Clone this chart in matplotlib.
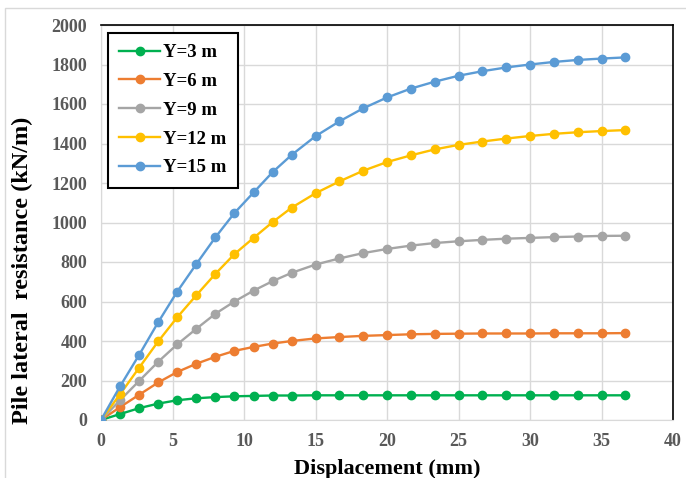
import matplotlib.pyplot as plt
import matplotlib.patches as patches
import numpy as np

plt.rcParams['font.family'] = ['Liberation Serif', 'DejaVu Serif']

# displacement (mm)
disp = [0, 1.33, 2.67, 4, 5.33, 6.67, 8, 9.33, 10.67, 12, 13.33, 15, 16.67,
        18.33, 20, 21.67, 23.33, 25, 26.67, 28.33, 30, 31.67, 33.33, 35, 36.67]

y3 = [0, 30, 60, 83, 100, 110, 116, 120, 122, 124, 124, 125, 125,
      125, 125, 125, 125, 125, 125, 125, 125, 125, 125, 125, 125]
y6 = [0, 65, 128, 190, 243, 285, 320, 350, 370, 387, 400, 413, 420,
      426, 430, 434, 436, 437, 438, 438, 438, 439, 439, 439, 440]
y9 = [0, 100, 198, 295, 383, 462, 538, 600, 655, 703, 745, 787, 818,
      845, 866, 883, 896, 905, 912, 918, 922, 926, 929, 932, 933]
y12 = [0, 130, 265, 398, 520, 632, 740, 840, 922, 1002, 1075, 1148, 1208,
       1262, 1306, 1340, 1370, 1393, 1410, 1425, 1438, 1449, 1457, 1463, 1468]
y15 = [0, 170, 330, 495, 650, 790, 925, 1048, 1152, 1255, 1342, 1437, 1512,
       1578, 1633, 1678, 1713, 1743, 1766, 1785, 1800, 1813, 1823, 1830, 1836]

series = [y3, y6, y9, y12, y15]
labels = ['Y=3 m', 'Y=6 m', 'Y=9 m', 'Y=12 m', 'Y=15 m']
colors = ['#00B050', '#ED7D31', '#A5A5A5', '#FFC000', '#5B9BD5']

fig = plt.figure(figsize=(6.86, 4.78), dpi=100)
ax = fig.add_axes([101 / 686, 1 - 420 / 478, 572 / 686, 395 / 478])

# outer chart border
fig.patches.append(patches.Rectangle((5 / 686, -0.1), 1.1, 1 - 8 / 478 + 0.1,
                                     transform=fig.transFigure, fill=False,
                                     edgecolor='#d9d9d9', linewidth=1))

for ys, lab, c in zip(series, labels, colors):
    ax.plot(disp, ys, '-o', color=c, label=lab, linewidth=1.7,
            markersize=6, zorder=3)

ax.set_xlim(0, 40)
ax.set_ylim(0, 2000)
ax.set_xticks(np.arange(0, 41, 5))
ax.set_yticks(np.arange(0, 2001, 200))
ax.grid(True, color='#d9d9d9', linewidth=1)
ax.set_axisbelow(True)
ax.tick_params(length=0, labelsize=13, labelcolor='#595959')
ax.tick_params(axis='x', pad=9)
ax.tick_params(axis='y', pad=10)
for t in ax.get_xticklabels() + ax.get_yticklabels():
    t.set_fontweight('bold')

for s in ['left', 'bottom']:
    ax.spines[s].set_color('#d9d9d9')
for s in ['top', 'right']:
    ax.spines[s].set_color('black')
    ax.spines[s].set_linewidth(1.2)

ax.set_xlabel('Displacement (mm)', fontsize=16, fontweight='bold', labelpad=7)
ax.set_ylabel('Pile lateral  resistance (kN/m)', fontsize=17.5, fontweight='bold')
ax.yaxis.set_label_coords(-0.118, 0.38)

leg = ax.legend(loc='upper left', bbox_to_anchor=(0.012, 0.98),
                borderaxespad=0, fancybox=False,
                framealpha=1, edgecolor='black', borderpad=0.6,
                handlelength=2.2, handletextpad=0.15, labelspacing=0.62,
                prop={'weight': 'bold', 'size': 13.5})
leg.get_frame().set_linewidth(1.5)

fig.savefig('out.png', dpi=100)
